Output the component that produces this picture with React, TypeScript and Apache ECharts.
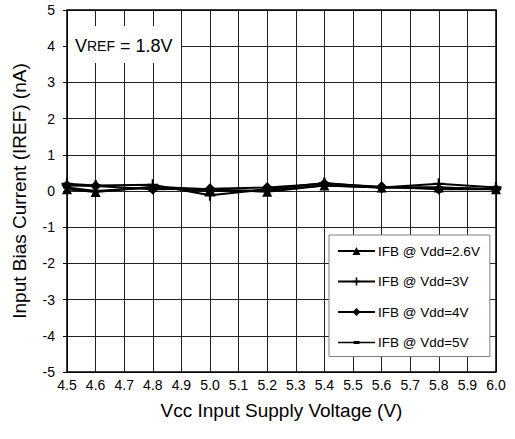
import React, { useEffect, useRef } from "react";
import * as echarts from "echarts";

const xValues = [4.5, 4.6, 4.8, 5.0, 5.2, 5.4, 5.6, 5.8, 6.0];
const vdd26 = [0.05, -0.03, 0.12, 0.05, -0.02, 0.15, 0.1, 0.1, 0.05];
const vdd3 = [0.2, 0.15, 0.17, -0.12, 0.05, 0.22, 0.1, 0.2, 0.1];
const vdd4 = [0.15, 0.14, 0.05, 0.06, 0.1, 0.2, 0.12, 0.05, 0.05];
const vdd5 = [0.1, 0.0, 0.1, 0.0, 0.02, 0.15, 0.1, 0.1, 0.05];
const seriesNames = ["IFB @ Vdd=2.6V", "IFB @ Vdd=3V", "IFB @ Vdd=4V", "IFB @ Vdd=5V"];

const plusPath = "path://M4,0H6V4H10V6H6V10H4V6H0V4H4Z";
const dashPath = "path://M0,0H10V3H0Z";
const dashLegendIcon =
  "path://M0,0H0.01V0.01H0Z M36.99,9.99H37V10H36.99Z M0,4.2H37V5.8H0Z M15.5,3.5H21.5V6.5H15.5Z";

export default function App() {
  const ref = useRef<HTMLDivElement>(null);
  useEffect(() => {
    document.body.style.margin = "0";
    if (!ref.current) return;
    const chart = echarts.init(ref.current, null, { renderer: "svg" });
    const font = "Liberation Sans, Arial, sans-serif";
    const mk = (name: string, ys: number[], symbol: string, size: any, keep = false) => ({
      name,
      type: "line",
      data: xValues.map((x, i) => [x, ys[i]]),
      symbol,
      symbolSize: size,
      symbolKeepAspect: keep,
      showSymbol: true,
      lineStyle: { color: "#000", width: 2 },
      itemStyle: { color: "#000" },
      z: 5,
    });
    chart.setOption({
      animation: false,
      backgroundColor: "#fff",
      textStyle: { fontFamily: font },
      grid: { left: 67, right: 19, top: 10, bottom: 67, containLabel: false },
      xAxis: {
        type: "value",
        min: 4.5,
        max: 6.0,
        interval: 0.1,
        name: "Vcc Input Supply Voltage (V)",
        nameLocation: "middle",
        nameGap: 29,
        nameTextStyle: { fontSize: 19, color: "#000", fontFamily: font },
        axisLine: { show: false },
        axisTick: { show: false },
        axisLabel: {
          color: "#000",
          fontSize: 14,
          margin: 6,
          fontFamily: font,
          showMaxLabel: true,
          formatter: (v: number) => v.toFixed(1),
        },
        splitLine: { show: true, lineStyle: { color: "#222", width: 1 } },
      },
      yAxis: {
        type: "value",
        min: -5,
        max: 5,
        interval: 1,
        name: "Input Bias Current (IREF) (nA)",
        nameLocation: "middle",
        nameGap: 38,
        nameTextStyle: { fontSize: 19, color: "#000", fontFamily: font },
        axisLine: { show: false },
        axisTick: { show: true, inside: false, length: 4, lineStyle: { color: "#000" } },
        axisLabel: { color: "#000", fontSize: 14, margin: 12, fontFamily: font },
        splitLine: { show: true, lineStyle: { color: "#222", width: 1 } },
      },
      legend: {
        orient: "vertical",
        left: 329,
        top: 235,
        width: 161,
        height: 123,
        padding: [9, 10, 7, 8],
        backgroundColor: "#fff",
        borderColor: "#808080",
        borderWidth: 1,
        itemWidth: 37,
        itemHeight: 10,
        itemGap: 16.5,
        textStyle: { fontSize: 13.5, color: "#000", fontFamily: font, padding: [0, 0, 0, -2] },
        data: [
          seriesNames[0],
          seriesNames[1],
          seriesNames[2],
          { name: seriesNames[3], icon: dashLegendIcon },
        ],
      },
      graphic: [
        {
          type: "rect",
          shape: { x: 68, y: 26, width: 113, height: 37 },
          style: { fill: "#fff" },
          z: 10,
        },
        {
          type: "text",
          x: 75,
          y: 46,
          z: 11,
          style: {
            text: "{a|V}{b|REF}{a| = 1.8V}",
            verticalAlign: "middle",
            rich: {
              a: { fontSize: 18, fontFamily: font, fill: "#000" },
              b: { fontSize: 14, fontFamily: font, fill: "#000" },
            },
          },
        },
        {
          type: "rect",
          shape: { x: 67, y: 10, width: 429, height: 362 },
          style: { fill: "none", stroke: "#000", lineWidth: 1.5 },
          z: 12,
        },
      ],
      series: [
        mk(seriesNames[0], vdd26, "triangle", 10),
        mk(seriesNames[1], vdd3, plusPath, 11),
        mk(seriesNames[2], vdd4, "diamond", 11),
        mk(seriesNames[3], vdd5, dashPath, 8, true),
      ],
    });
    return () => chart.dispose();
  }, []);
  return <div ref={ref} style={{ width: 515, height: 439 }} />;
}
